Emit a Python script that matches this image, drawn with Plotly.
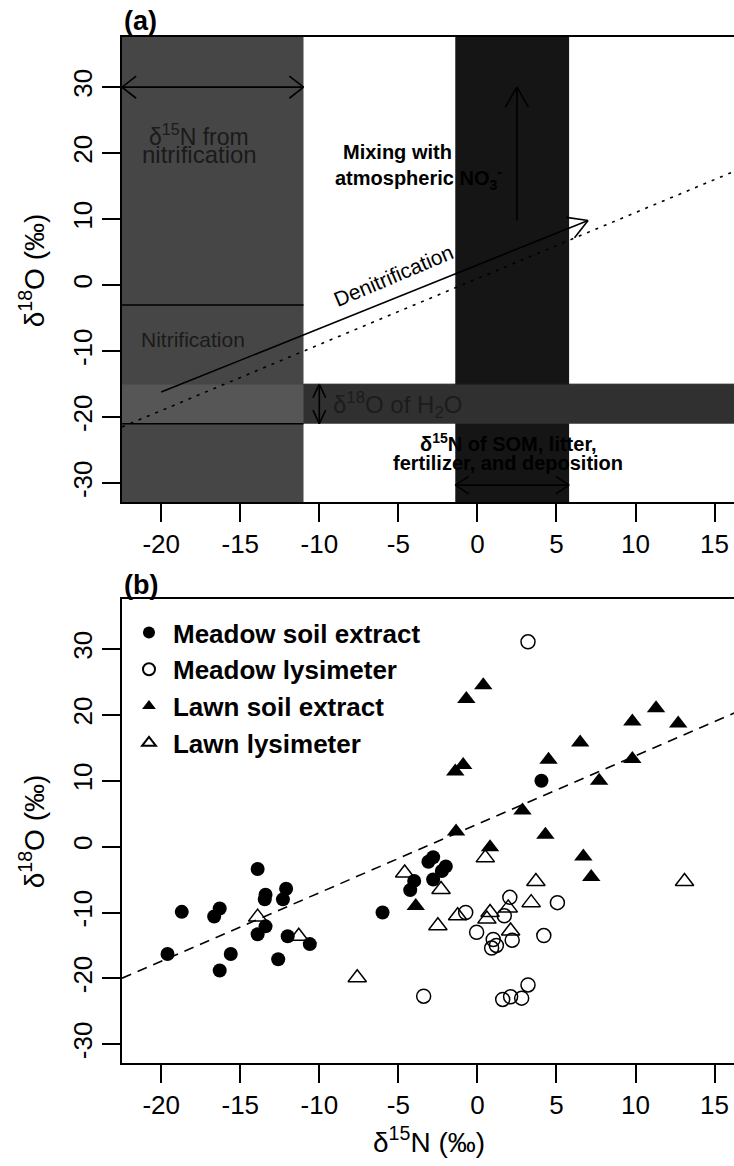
import math
import plotly.graph_objects as go

# ---------------- Panel (b) data ----------------
meadow_soil_x = [-13.9, -18.7, -16.3, -16.65, -13.4, -13.45, -12.1, -12.3, -13.4, -13.9,
                 -19.6, -15.6, -16.3, -12.0, -10.6, -12.6, -6.0, -3.1, -2.8, -2.0,
                 -2.25, -4.0, -4.25, -2.8, 4.05]
meadow_soil_y = [-3.4, -9.9, -9.4, -10.6, -7.3, -8.0, -6.4, -8.0, -12.1, -13.3,
                 -16.3, -16.3, -18.8, -13.6, -14.8, -17.1, -10.0, -2.3, -1.6, -3.0,
                 -3.7, -5.2, -6.6, -5.0, 10.0]

meadow_lys_x = [3.2, -0.74, 2.05, 1.7, -0.05, 5.06, 4.2, 1.0, 0.9, 1.2, 2.2,
                -3.4, 3.2, 1.6, 2.1, 2.8]
meadow_lys_y = [31.1, -10.0, -7.7, -10.5, -13.0, -8.5, -13.5, -14.1, -15.4, -15.0, -14.2,
                -22.7, -21.0, -23.2, -22.8, -23.0]

lawn_soil_x = [0.37, -0.7, -0.9, -1.4, 4.5, 6.5, 9.8, 11.3, 12.7, 9.8, 7.7, 2.85,
               -1.35, 0.8, 4.3, 6.7, 7.2, -3.9]
lawn_soil_y = [24.5, 22.4, 12.4, 11.4, 13.2, 15.8, 19.0, 21.0, 18.7, 13.3, 10.0, 5.5,
               2.3, -0.1, 1.8, -1.5, -4.6, -9.0]

lawn_lys_x = [-13.9, -11.3, -7.6, -4.6, 0.5, 13.1, -2.3, -2.5, -1.25, 3.7, 3.4,
              0.8, 0.6, 1.95, 2.1]
lawn_lys_y = [-10.7, -13.6, -19.9, -4.0, -1.7, -5.3, -6.5, -12.0, -10.5, -5.3, -8.5,
              -10.0, -11.0, -9.3, -12.8]

series_names = ["Meadow soil extract", "Meadow lysimeter", "Lawn soil extract", "Lawn lysimeter"]

# fitted line in (b) and reference line in (a)
reg_intercept, reg_slope = 3.4, 1.04
ref_intercept, ref_slope = 1.0, 1.0

# axis ticks (hyphen-minus labels as in the original)
x_ticks = [-20, -15, -10, -5, 0, 5, 10, 15]
x_tick_text = ["-20", "-15", "-10", "-5", "0", "5", "10", "15"]
y_ticks = [-30, -20, -10, 0, 10, 20, 30]
y_tick_text = ["-30", "-20", "-10", "0", "10", "20", "30"]
XR = [-22.48, 16.23]
YR = [-32.85, 37.6]

# ---------------- Panel (a) conceptual regions ----------------
nitrif_n_range = [XR[0], -11.0]          # delta15N from nitrification
source_n_range = [-1.4, 5.8]             # delta15N of SOM, litter, fertilizer, deposition
h2o_o_range = [-21.0, -15.0]             # delta18O of H2O
nitrif_o_range = [-21.0, -3.0]           # nitrification delta18O

# arrows: (x0, y0, x1, y1, both_ends, head_len_px, head_angle_deg)
arrows_a = [
    (XR[0], 30.0, -11.0, 30.0, True, 18, 38),
    (2.5, 9.8, 2.5, 30.0, False, 23, 30),
    (-20.0, -16.2, 7.0, 9.8, False, 22, 30),
    (-10.0, -15.0, -10.0, -21.0, True, 15, 25),
    (-1.4, -30.3, 5.8, -30.3, True, 16, 33),
]

# ---------------- layout geometry (page pixels) ----------------
# figure is 2px wider than the 734px window so its right frame line falls off-page
W, H = 736, 1166
PL, PR, PT, PB = 122, 736, 37, 1063
ML, MR, MT, MB = PL, W - PR, PT, H - PB
plot_w = PR - PL
plot_h = PB - PT


def pdy(py):
    return (PB - py) / plot_h


def pdx(px):
    return (px - PL) / plot_w


dom_a = [pdy(502), 1.0]
dom_b = [0.0, pdy(599)]
sx = plot_w / (XR[1] - XR[0])
sy = (502 - 37) / (YR[1] - YR[0])

FONT = "Liberation Sans, Arial, sans-serif"

fig = go.Figure()

# ----- panel (a) lines -----
ax_x = [XR[0], XR[1]]
fig.add_trace(go.Scatter(x=ax_x, y=[ref_intercept + ref_slope * v for v in ax_x],
                         mode="lines", line=dict(color="black", width=1.6, dash="3px,6px"),
                         xaxis="x", yaxis="y", showlegend=False, hoverinfo="skip"))

ax_xs, ax_ys = [], []
for (x0, y0, x1, y1, both, hl, ha) in arrows_a:
    ax_xs += [x0, x1, None]
    ax_ys += [y0, y1, None]
    th = math.atan2((y1 - y0) * sy, (x1 - x0) * sx)
    tips = [(x1, y1, th)]
    if both:
        tips.append((x0, y0, th + math.pi))
    for (tx, ty, t) in tips:
        for s in (1, -1):
            a = t + math.pi + s * math.radians(ha)
            ax_xs += [tx + hl * math.cos(a) / sx, tx, None]
            ax_ys += [ty + hl * math.sin(a) / sy, ty, None]
fig.add_trace(go.Scatter(x=ax_xs, y=ax_ys, mode="lines",
                         line=dict(color="black", width=1.6),
                         xaxis="x", yaxis="y", showlegend=False, hoverinfo="skip"))

# ----- panel (b) -----
fig.add_trace(go.Scatter(x=ax_x, y=[reg_intercept + reg_slope * v for v in ax_x],
                         mode="lines", line=dict(color="black", width=1.6, dash="10px,7px"),
                         xaxis="x2", yaxis="y2", showlegend=False, hoverinfo="skip"))

marker_styles = [
    dict(symbol="circle", size=14, color="black"),
    dict(symbol="circle-open", size=14, color="black", line=dict(width=1.5)),
    dict(symbol="triangle-up", size=16, color="black"),
    dict(symbol="triangle-up-open", size=16, color="black", line=dict(width=1.5)),
]
series = [(meadow_soil_x, meadow_soil_y), (meadow_lys_x, meadow_lys_y),
          (lawn_soil_x, lawn_soil_y), (lawn_lys_x, lawn_lys_y)]
for name, (xs, ys), ms in zip(series_names, series, marker_styles):
    fig.add_trace(go.Scatter(x=xs, y=ys, mode="markers", name=name, marker=ms,
                             xaxis="x2", yaxis="y2"))

# ----- shapes for panel (a) -----
shapes = [
    dict(type="rect", xref="x", yref="y", x0=nitrif_n_range[0], x1=nitrif_n_range[1],
         y0=YR[0], y1=YR[1], fillcolor="#464646", line=dict(width=0), layer="below"),
    dict(type="rect", xref="x", yref="y", x0=source_n_range[0], x1=source_n_range[1],
         y0=YR[0], y1=YR[1], fillcolor="#151515", line=dict(width=0), layer="below"),
    dict(type="rect", xref="x", yref="y", x0=XR[0], x1=XR[1],
         y0=h2o_o_range[0], y1=h2o_o_range[1], fillcolor="#303030",
         line=dict(width=0), layer="below"),
    dict(type="rect", xref="x", yref="y", x0=nitrif_n_range[0], x1=nitrif_n_range[1],
         y0=h2o_o_range[0], y1=h2o_o_range[1], fillcolor="#565656",
         line=dict(width=0), layer="below"),
    dict(type="line", xref="x", yref="y", x0=nitrif_n_range[0], x1=nitrif_n_range[1],
         y0=nitrif_o_range[1], y1=nitrif_o_range[1], line=dict(color="black", width=1.5)),
    dict(type="line", xref="x", yref="y", x0=nitrif_n_range[0], x1=nitrif_n_range[1],
         y0=nitrif_o_range[0], y1=nitrif_o_range[0], line=dict(color="black", width=1.5)),
    dict(type="line", xref="x", yref="y", x0=nitrif_n_range[1], x1=XR[1],
         y0=h2o_o_range[1], y1=h2o_o_range[1], line=dict(color="#202020", width=1)),
]


# ----- annotations -----
def ann(text, x, y, size, bold=False, color="black", angle=0, xref="x", yref="y", **kw):
    t = "<b>" + text + "</b>" if bold else text
    d = dict(text=t, x=x, y=y, xref=xref, yref=yref, showarrow=False,
             xanchor="center", yanchor="middle",
             font=dict(family=FONT, size=size, color=color), textangle=angle)
    d.update(kw)
    return d


annotations = [
    ann("δ<sup>15</sup>N from", -17.6, 22.8, 23, color="#1a1a1a"),
    ann("nitrification", -17.6, 19.8, 24, color="#1a1a1a"),
    ann("Nitrification", -18.0, -8.2, 21, color="#1a1a1a"),
    ann("Mixing with", -5.05, 20.2, 20, bold=True),
    ann("atmospheric NO<sub>3</sub><sup>-</sup>", -3.7, 16.2, 20, bold=True),
    ann("Denitrification", -5.3, 1.4, 21, angle=-23),
    ann("δ<sup>18</sup>O of H<sub>2</sub>O", -5.05, -18.2, 24, color="#1c1c1c"),
    ann("δ<sup>15</sup>N of SOM, litter,", 1.95, -23.9, 20, bold=True),
    ann("fertilizer, and deposition", 1.95, -27.0, 20, bold=True),
    ann("(a)", 0.0, pdy(21), 27, bold=True, xref="paper", yref="paper", xanchor="left"),
    ann("(b)", 0.0, pdy(585), 27, bold=True, xref="paper", yref="paper", xanchor="left"),
    ann("δ<sup>18</sup>O (‰)", pdx(32), pdy(270), 28, angle=-90,
        xref="paper", yref="paper"),
    ann("δ<sup>18</sup>O (‰)", pdx(32), pdy(831), 28, angle=-90,
        xref="paper", yref="paper"),
    ann("δ<sup>15</sup>N (‰)", pdx(430), pdy(1140), 28,
        xref="paper", yref="paper"),
]

axis_common = dict(showline=True, linecolor="black", linewidth=1.5, mirror=True,
                   ticks="outside", ticklen=18, tickwidth=1.5, tickcolor="black",
                   showgrid=False, zeroline=False,
                   tickfont=dict(family=FONT, size=26, color="black"))

fig.update_layout(
    width=W, height=H,
    margin=dict(l=ML, r=MR, t=MT, b=MB, pad=0),
    paper_bgcolor="white", plot_bgcolor="white",
    xaxis=dict(range=XR, domain=[0, 1], anchor="y", tickvals=x_ticks,
               ticktext=x_tick_text, **axis_common),
    yaxis=dict(range=YR, domain=dom_a, anchor="x", tickvals=y_ticks,
               ticktext=y_tick_text, tickangle=-90, **axis_common),
    xaxis2=dict(range=XR, domain=[0, 1], anchor="y2", tickvals=x_ticks,
                ticktext=x_tick_text, **axis_common),
    yaxis2=dict(range=YR, domain=dom_b, anchor="x2", tickvals=y_ticks,
                ticktext=y_tick_text, tickangle=-90, **axis_common),
    shapes=shapes,
    annotations=annotations,
    showlegend=True,
    legend=dict(x=pdx(125), y=pdy(609), xanchor="left", yanchor="top",
                bgcolor="rgba(0,0,0,0)", itemsizing="constant", itemwidth=38,
                font=dict(family=FONT, size=26, color="black", weight="bold")),
)

fig.write_html("out.html", config={"displayModeBar": False},
               post_script="document.documentElement.style.margin='0';"
                           "document.body.style.margin='0';"
                           "document.body.style.padding='0';"
                           "document.body.style.overflow='hidden';")
